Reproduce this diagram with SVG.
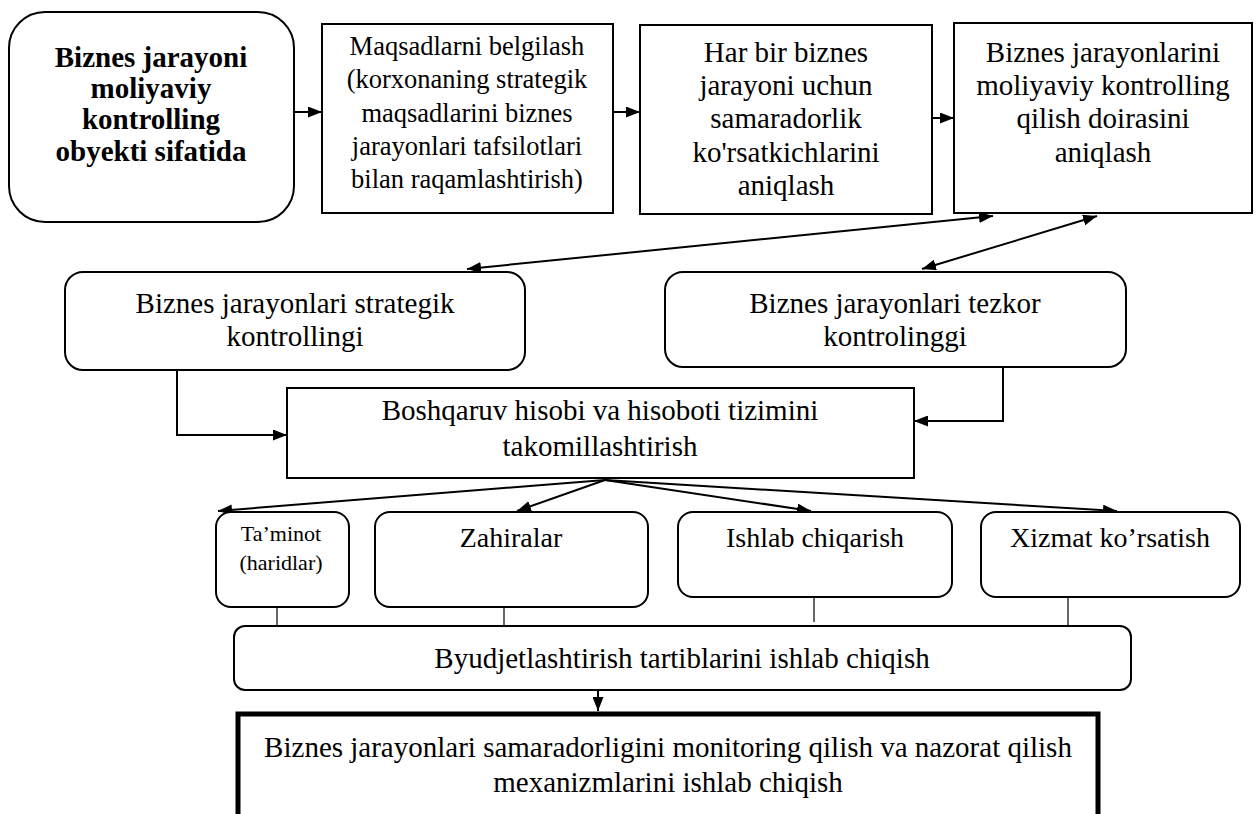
<svg xmlns="http://www.w3.org/2000/svg" width="1257" height="814" viewBox="0 0 1257 814">
  <defs>
    <marker id="ah" viewBox="0 0 14 11" refX="14" refY="5.5" markerWidth="14" markerHeight="11" markerUnits="userSpaceOnUse" orient="auto-start-reverse">
      <path d="M0,0 L14,5.5 L0,11 Z" fill="#000"/>
    </marker>
    <style>
      .box { fill: #fff; stroke: #000; stroke-width: 2; }
      .heavy { fill: #fff; stroke: #000; stroke-width: 5; }
      .t { font-family: 'Liberation Serif', 'Times New Roman', Times, 'DejaVu Serif', serif; font-size: 29px; fill: #000; text-anchor: middle; }
      .b { font-weight: bold; }
      .s { font-size: 26.5px; }
      .xs { font-size: 22px; }
      .m { font-size: 28px; }
      .c { fill: none; stroke: #000; stroke-width: 2; }
      .thin { fill: none; stroke: #000; stroke-width: 1.2; }
    </style>
  </defs>
  <rect width="1257" height="814" fill="#fff"/>

  <!-- connectors -->
  <g id="connectors">
    <line class="c" x1="294" y1="112" x2="322" y2="112" marker-end="url(#ah)"/>
    <line class="c" x1="613" y1="112" x2="640" y2="112" marker-end="url(#ah)"/>
    <line class="c" x1="932" y1="118" x2="954" y2="118" marker-end="url(#ah)"/>
    <line class="c" x1="993" y1="216" x2="467" y2="269" marker-start="url(#ah)" marker-end="url(#ah)"/>
    <line class="c" x1="1097" y1="216" x2="922" y2="269" marker-start="url(#ah)" marker-end="url(#ah)"/>
    <polyline class="c" points="177,370 177,435 287,435" marker-end="url(#ah)"/>
    <polyline class="c" points="1003,367 1003,421 914,421" marker-end="url(#ah)"/>
    <line class="c" x1="605" y1="480" x2="218" y2="511" marker-end="url(#ah)"/>
    <line class="c" x1="605" y1="480" x2="517" y2="511" marker-end="url(#ah)"/>
    <line class="c" x1="605" y1="480" x2="811" y2="511" marker-end="url(#ah)"/>
    <line class="c" x1="605" y1="480" x2="1117" y2="511" marker-end="url(#ah)"/>
    <line class="thin" x1="277" y1="607" x2="277" y2="626"/>
    <line class="thin" x1="504" y1="607" x2="504" y2="626"/>
    <line class="thin" x1="814" y1="597" x2="814" y2="622"/>
    <line class="thin" x1="1068" y1="597" x2="1068" y2="626"/>
    <line class="c" x1="598" y1="690" x2="598" y2="711" marker-end="url(#ah)"/>
  </g>

  <g id="n-obyekt">
    <rect class="box" x="9" y="12" width="285" height="210" rx="36"/>
    <text class="t b" x="151" y="67">Biznes jarayoni</text>
    <text class="t b" x="151" y="98">moliyaviy</text>
    <text class="t b" x="151" y="129">kontrolling</text>
    <text class="t b" x="151" y="161">obyekti sifatida</text>
  </g>

  <g id="n-maqsad">
    <rect class="box" x="322" y="24" width="291" height="189"/>
    <text class="t s" x="467" y="55">Maqsadlarni belgilash</text>
    <text class="t s" x="467" y="88">(korxonaning strategik</text>
    <text class="t s" x="467" y="122">maqsadlarini biznes</text>
    <text class="t s" x="467" y="155">jarayonlari tafsilotlari</text>
    <text class="t s" x="467" y="188">bilan raqamlashtirish)</text>
  </g>

  <g id="n-korsatkich">
    <rect class="box" x="640" y="25" width="292" height="189"/>
    <text class="t" x="786" y="62">Har bir biznes</text>
    <text class="t" x="786" y="95">jarayoni uchun</text>
    <text class="t" x="786" y="128">samaradorlik</text>
    <text class="t" x="786" y="162">ko'rsatkichlarini</text>
    <text class="t" x="786" y="195">aniqlash</text>
  </g>

  <g id="n-doira">
    <rect class="box" x="954" y="23" width="298" height="190"/>
    <text class="t" x="1103" y="62">Biznes jarayonlarini</text>
    <text class="t" x="1103" y="95">moliyaviy kontrolling</text>
    <text class="t" x="1103" y="128">qilish doirasini</text>
    <text class="t" x="1103" y="162">aniqlash</text>
  </g>

  <g id="n-strategik">
    <rect class="box" x="65" y="272" width="460" height="98" rx="18"/>
    <text class="t" x="295" y="313">Biznes jarayonlari strategik</text>
    <text class="t" x="295" y="346">kontrollingi</text>
  </g>

  <g id="n-tezkor">
    <rect class="box" x="665" y="272" width="461" height="95" rx="18"/>
    <text class="t" x="895" y="313">Biznes jarayonlari tezkor</text>
    <text class="t" x="895" y="346">kontrolinggi</text>
  </g>

  <g id="n-boshqaruv">
    <rect class="box" x="287" y="388" width="627" height="90"/>
    <text class="t" x="600" y="420">Boshqaruv hisobi va hisoboti tizimini</text>
    <text class="t" x="600" y="456">takomillashtirish</text>
  </g>

  <g id="n-taminot">
    <rect class="box" x="216" y="512" width="133" height="95" rx="15"/>
    <text class="t xs" x="281" y="541">Ta’minot</text>
    <text class="t xs" x="281" y="570">(haridlar)</text>
  </g>

  <g id="n-zahiralar">
    <rect class="box" x="375" y="512" width="273" height="95" rx="15"/>
    <text class="t m" x="511" y="547">Zahiralar</text>
  </g>

  <g id="n-ishlab">
    <rect class="box" x="678" y="512" width="274" height="85" rx="15"/>
    <text class="t m" x="815" y="547">Ishlab chiqarish</text>
  </g>

  <g id="n-xizmat">
    <rect class="box" x="981" y="512" width="259" height="85" rx="15"/>
    <text class="t m" x="1110" y="547">Xizmat ko’rsatish</text>
  </g>

  <g id="n-byudjet">
    <rect class="box" x="234" y="626" width="897" height="64" rx="11"/>
    <text class="t" x="682" y="668">Byudjetlashtirish tartiblarini ishlab chiqish</text>
  </g>

  <g id="n-monitoring">
    <rect class="heavy" x="238" y="714" width="860" height="120"/>
    <text class="t" x="668" y="757">Biznes jarayonlari samaradorligini monitoring qilish va nazorat qilish</text>
    <text class="t" x="668" y="792">mexanizmlarini ishlab chiqish</text>
  </g>
</svg>
